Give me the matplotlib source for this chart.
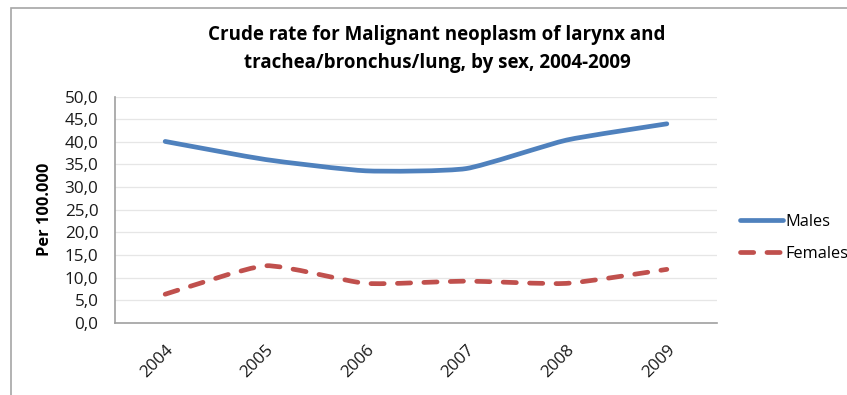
import numpy as np
import matplotlib
matplotlib.use('Agg')
import matplotlib.pyplot as plt
from matplotlib.path import Path
from matplotlib.patches import PathPatch, Rectangle
from matplotlib.lines import Line2D
from matplotlib.ticker import FuncFormatter

plt.rcParams['font.family'] = ['Open Sans', 'DejaVu Sans']

years = ['2004', '2005', '2006', '2007', '2008', '2009']
males = [40.1, 36.1, 33.6, 34.1, 40.4, 44.0]
females = [6.3, 12.6, 8.7, 9.2, 8.7, 11.8]

male_col = '#4F81BD'
female_col = '#C0504D'


def smooth_path(xs, ys, k=0.09):
    # mildly smoothed line: catmull-rom style segments as cubic beziers
    pts = np.column_stack([xs, ys]).astype(float)
    ext = np.vstack([pts[0], pts, pts[-1]])
    verts = [pts[0]]
    codes = [Path.MOVETO]
    for i in range(1, len(ext) - 2):
        p0, p1, p2, p3 = ext[i - 1], ext[i], ext[i + 1], ext[i + 2]
        verts += [p1 + (p2 - p0) * k, p2 - (p3 - p1) * k, p2]
        codes += [Path.CURVE4] * 3
    return Path(verts, codes)


fig = plt.figure(figsize=(8.47, 3.95), dpi=100)
ax = fig.add_axes([115 / 847, 1 - 322.7 / 395, (717 - 115) / 847, (322.7 - 96.7) / 395])

x = np.arange(len(years))
lw = 3.4
dash = (0, (2.8, 2.8))
ax.add_patch(PathPatch(smooth_path(x, males), fill=False, edgecolor=male_col,
                       lw=lw, capstyle='round', joinstyle='round', zorder=3))
ax.add_patch(PathPatch(smooth_path(x, females), fill=False, edgecolor=female_col,
                       lw=lw, linestyle=dash, capstyle='round',
                       joinstyle='round', zorder=3))

ax.set_xlim(-0.5, len(years) - 0.5)
ax.set_ylim(0, 50)
ax.set_yticks(np.arange(0, 51, 5))
ax.yaxis.set_major_formatter(FuncFormatter(lambda v, p: ('%.1f' % v).replace('.', ',')))
ax.set_xticks(x)
ax.set_xticklabels(years, rotation=45, ha='right', rotation_mode='anchor')
ax.tick_params(length=0, labelsize=12.3, colors='#1a1a1a')
ax.tick_params(axis='x', pad=14)
ax.tick_params(axis='y', pad=12)
ax.grid(axis='y', color='#E6E6E6', lw=0.9)
ax.set_axisbelow(True)
for s in ['top', 'right']:
    ax.spines[s].set_visible(False)
for s in ['left', 'bottom']:
    ax.spines[s].set_color('#A0A0A0')
    ax.spines[s].set_linewidth(1.2)

ax.set_ylabel('Per 100.000', fontsize=11.8, fontweight='bold', labelpad=8)

fig.text(437 / 847, 1 - 49 / 395,
         'Crude rate for Malignant neoplasm of larynx and\ntrachea/bronchus/lung, by sex, 2004-2009',
         ha='center', va='center', fontsize=13.5, fontweight='bold', linespacing=1.55)

handles = [Line2D([0], [0], color=male_col, lw=lw, solid_capstyle='round'),
           Line2D([0], [0], color=female_col, lw=lw, linestyle=dash,
                  dash_capstyle='round')]
fig.legend(handles, ['Males', 'Females'], loc='center left',
           bbox_to_anchor=(740 / 847, 1 - 238 / 395), frameon=False,
           fontsize=11.8, handlelength=2.6, handletextpad=0.15, labelspacing=1.0,
           borderpad=0, borderaxespad=0)

fig.patches.append(Rectangle((11 / 847, -0.1), 1.2, 1.1 - 8 / 395, transform=fig.transFigure,
                             fill=False, edgecolor='#A6A6A6', lw=1.2))

fig.savefig('out.png', dpi=100)
